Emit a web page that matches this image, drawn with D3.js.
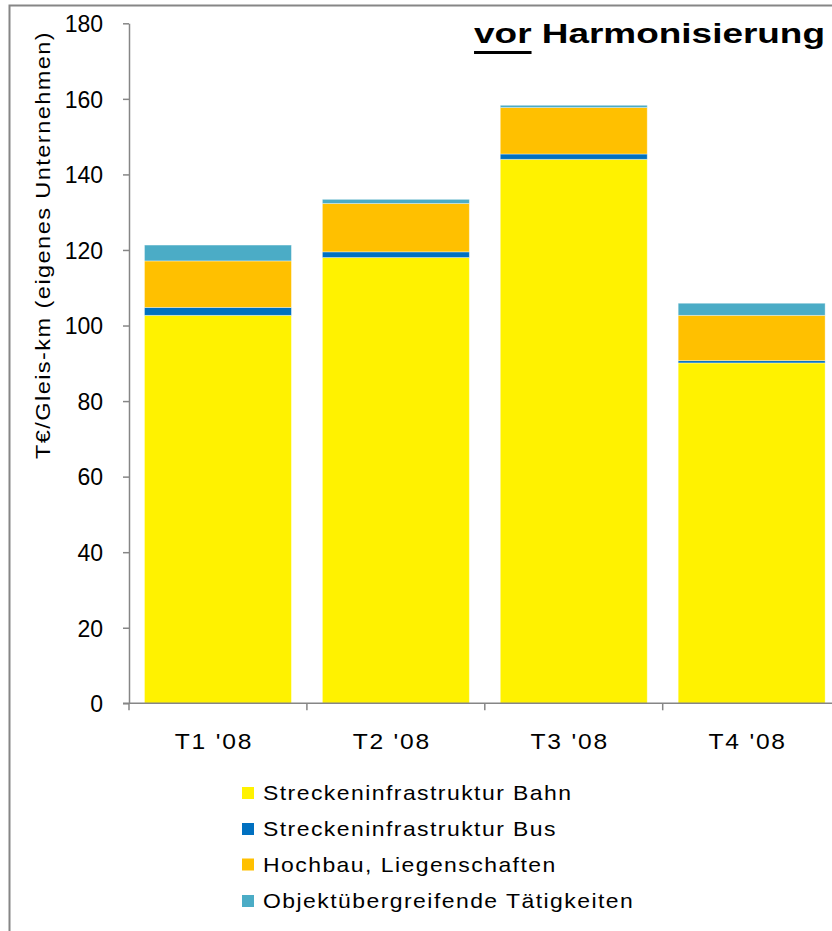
<!DOCTYPE html>
<html>
<head>
<meta charset="utf-8">
<script src="https://cdn.jsdelivr.net/npm/d3@7"></script>
<style>
  html, body { margin: 0; padding: 0; background: #fff; }
  svg { display: block; font-family: "Liberation Sans", Arial, sans-serif; }
</style>
</head>
<body>
<svg id="chart" width="832" height="931"></svg>
<script>
// Quarters and cost components (T€ per track-km, own company)
const categories = ["T1 '08", "T2 '08", "T3 '08", "T4 '08"];
const seriesNames = [
  "Streckeninfrastruktur Bahn",
  "Streckeninfrastruktur Bus",
  "Hochbau, Liegenschaften",
  "Objektübergreifende Tätigkeiten"
];
const bahn = [102.7, 118.0, 144.0, 90.1];
const bus = [2.1, 1.5, 1.4, 0.6];
const hochbau = [12.3, 12.8, 12.3, 12.0];
const objekt = [4.2, 1.1, 0.6, 3.2];
const yTicks = [0, 20, 40, 60, 80, 100, 120, 140, 160, 180];
const colors = ["#FFF200", "#0070C0", "#FFC000", "#4BACC6"];

const rows = categories.map((c, i) => ({
  cat: c,
  [seriesNames[0]]: bahn[i],
  [seriesNames[1]]: bus[i],
  [seriesNames[2]]: hochbau[i],
  [seriesNames[3]]: objekt[i]
}));

const svg = d3.select("#chart");
const axisColor = "#868686";
const wide = 1.12;      // horizontal widening of the label lettering
const spacing = "1.3px"; // extra tracking of the label lettering

// outer frame
svg.append("rect")
  .attr("x", 9.5).attr("y", 5.5)
  .attr("width", 900).attr("height", 1000)
  .attr("fill", "none").attr("stroke", axisColor).attr("stroke-width", 2);

const x0 = 129, x1 = 840.6, yTop = 23.3, yBottom = 703.3;

const x = d3.scaleBand().domain(categories).range([x0, x1])
  .paddingInner(0.174).paddingOuter(0.087);
const y = d3.scaleLinear().domain([0, 180]).range([yBottom, yTop]);

const layers = d3.stack().keys(seriesNames)(rows);

// stacked bars
svg.append("g").selectAll("g")
  .data(layers)
  .join("g")
  .attr("fill", (d, i) => colors[i])
  .selectAll("rect")
  .data(d => d)
  .join("rect")
  .attr("x", d => x(d.data.cat))
  .attr("width", x.bandwidth())
  .attr("y", d => y(d[1]))
  .attr("height", d => y(d[0]) - y(d[1]))
  .attr("stroke", "rgba(255,255,255,0.45)")
  .attr("stroke-width", 0.8);

// y axis
const yAxis = svg.append("g")
  .attr("transform", `translate(${x0},0)`)
  .call(d3.axisLeft(y).tickValues(yTicks).tickSize(6).tickPadding(20).tickSizeOuter(0));
yAxis.select(".domain").attr("stroke", axisColor).attr("stroke-width", 1.5);
yAxis.selectAll(".tick line").attr("stroke", axisColor).attr("stroke-width", 1.5);
yAxis.selectAll(".tick text")
  .attr("fill", "#000")
  .attr("dy", "0.36em")
  .style("font-size", "23px");

// x axis with ticks at band boundaries
const xAxisG = svg.append("g").attr("transform", `translate(0,${yBottom})`);
xAxisG.append("line")
  .attr("x1", x0 - 6).attr("x2", 832)
  .attr("stroke", axisColor).attr("stroke-width", 1.5);
const step = x.step();
xAxisG.selectAll("line.bt")
  .data(d3.range(categories.length))
  .join("line")
  .attr("class", "bt")
  .attr("x1", i => x0 + i * step).attr("x2", i => x0 + i * step)
  .attr("y1", 0).attr("y2", 7)
  .attr("stroke", axisColor).attr("stroke-width", 1.5);
xAxisG.selectAll("g.lab")
  .data(categories)
  .join("g")
  .attr("class", "lab")
  .attr("transform", d => `translate(${x(d) + x.bandwidth() / 2 - 4},46) scale(${wide},1)`)
  .append("text")
  .attr("text-anchor", "middle")
  .style("font-size", "22px")
  .style("letter-spacing", "1.6px")
  .text(d => d);

// y axis title
svg.append("text")
  .attr("transform", `translate(50,245) rotate(-90) scale(${wide},1)`)
  .attr("text-anchor", "middle")
  .style("font-size", "21px")
  .style("letter-spacing", spacing)
  .text("T€/Gleis-km  (eigenes  Unternehmen)");

// chart title with underlined first word
const titleG = svg.append("g").attr("transform", `translate(825,43) scale(1.32,1)`);
const title = titleG.append("text")
  .attr("text-anchor", "end")
  .style("font-size", "28px")
  .style("font-weight", "bold")
  .text("vor Harmonisierung");
const fullW = title.node().getComputedTextLength();
const vorW = title.node().getSubStringLength(0, 3);
titleG.append("rect")
  .attr("x", -fullW).attr("y", 8)
  .attr("width", vorW).attr("height", 3)
  .attr("fill", "#000");

// legend
const legend = svg.append("g");
const legendY = [793, 829, 864.5, 901];
seriesNames.forEach((name, i) => {
  legend.append("rect")
    .attr("x", 242).attr("y", legendY[i] - 6)
    .attr("width", 12).attr("height", 12)
    .attr("fill", colors[i]);
  legend.append("g")
    .attr("transform", `translate(263,${legendY[i]}) scale(${wide},1)`)
    .append("text")
    .attr("dy", "0.36em")
    .style("font-size", "20.5px")
    .style("letter-spacing", spacing)
    .text(name);
});
</script>
</body>
</html>
